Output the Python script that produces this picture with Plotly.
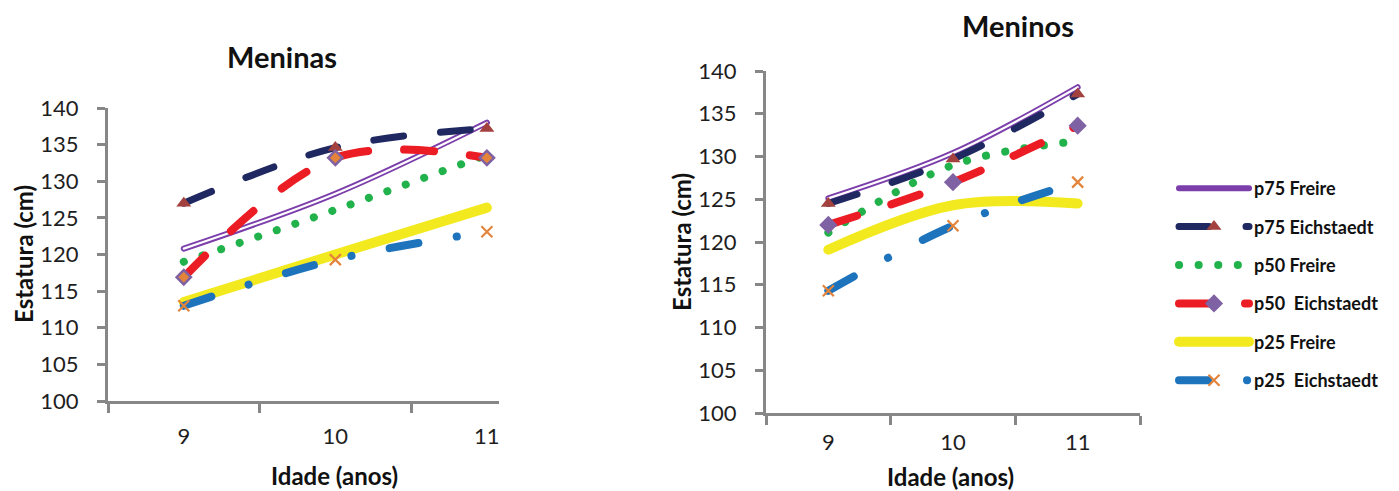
import plotly.graph_objects as go

# Age categories (years)
ages = [9, 10, 11]

# Girls (Meninas) – stature in cm
girls_p75_freire = [120.8, 128.3, 138.0]
girls_p75_eich = [127.0, 134.6, 137.2]
girls_p50_freire = [119.0, 126.1, 133.6]
girls_p50_eich = [116.9, 133.2, 133.2]
girls_p25_freire = [113.5, 120.0, 126.4]
girls_p25_eich = [113.0, 119.3, 123.1]

# Boys (Meninos) – stature in cm
boys_p75_freire = [125.1, 130.4, 138.1]
boys_p75_eich = [124.5, 129.7, 137.3]
boys_p50_freire = [121.1, 129.0, 131.8]
boys_p50_eich = [122.0, 127.0, 133.6]
boys_p25_freire = [119.1, 124.3, 124.5]
boys_p25_eich = [114.3, 121.9, 127.0]

series_names = ["p75 Freire", "p75 Eichstaedt", "p50 Freire",
                "p50  Eichstaedt", "p25 Freire", "p25  Eichstaedt"]
y_ticks = [100, 105, 110, 115, 120, 125, 130, 135, 140]

PURPLE = "#7B3EAA"
NAVY = "#1F2860"
TRI = "#A3413F"
GREEN = "#22B24C"
RED = "#EC1C24"
DIAMOND = "#7F62A3"
ORANGE = "#E4843A"
YELLOW = "#F2EA1E"
BLUE = "#1D74BD"
AXIS = "#878787"
FONT = "Lato"

fig = go.Figure()


def add_panel(xa, ya, data, girls):
    p75f, p75e, p50f, p50e, p25f, p25e = data
    legend = not girls
    # p75 Freire: double line (purple outline, white core)
    fig.add_trace(go.Scatter(x=ages, y=p75f, mode="lines", name=series_names[0],
                             line=dict(color=PURPLE, width=6, shape="spline"),
                             xaxis=xa, yaxis=ya, showlegend=legend, legendgroup="g0"))
    fig.add_trace(go.Scatter(x=ages, y=p75f, mode="lines", name=series_names[0],
                             line=dict(color="white", width=2.2, shape="spline"),
                             xaxis=xa, yaxis=ya, showlegend=False, legendgroup="g0",
                             hoverinfo="skip"))
    # p75 Eichstaedt
    fig.add_trace(go.Scatter(x=ages, y=p75e, mode="lines+markers", name=series_names[1],
                             line=dict(color=NAVY, width=7, dash="30px,37px", shape="spline"),
                             marker=dict(symbol="triangle-up", size=13, color=TRI),
                             xaxis=xa, yaxis=ya, showlegend=legend, legendgroup="g1"))
    # p50 Freire
    fig.add_trace(go.Scatter(x=ages, y=p50f, mode="lines", name=series_names[2],
                             line=dict(color=GREEN, width=8, dash="0.1px,19.5px", shape="spline"),
                             xaxis=xa, yaxis=ya, showlegend=legend, legendgroup="g2"))
    # p50 Eichstaedt
    if girls:
        dmark = dict(symbol="diamond", size=11, color=ORANGE, line=dict(color=DIAMOND, width=2.5))
    else:
        dmark = dict(symbol="diamond", size=14, color=DIAMOND)
    fig.add_trace(go.Scatter(x=ages, y=p50e, mode="lines+markers", name=series_names[3],
                             line=dict(color=RED, width=8, dash="30px,36px", shape="spline"),
                             marker=dmark,
                             xaxis=xa, yaxis=ya, showlegend=legend, legendgroup="g3"))
    # p25 Freire
    fig.add_trace(go.Scatter(x=ages, y=p25f, mode="lines", name=series_names[4],
                             line=dict(color=YELLOW, width=10, shape="spline"),
                             xaxis=xa, yaxis=ya, showlegend=legend, legendgroup="g4"))
    # p25 Eichstaedt
    fig.add_trace(go.Scatter(x=ages, y=p25e, mode="lines+markers", name=series_names[5],
                             line=dict(color=BLUE, width=8, dash="29px,39px,0.1px,39px", shape="spline"),
                             marker=dict(symbol="x-thin", size=11, color=ORANGE,
                                         line=dict(color=ORANGE, width=2.2)),
                             xaxis=xa, yaxis=ya, showlegend=legend, legendgroup="g5"))


add_panel("x", "y", [girls_p75_freire, girls_p75_eich, girls_p50_freire,
                     girls_p50_eich, girls_p25_freire, girls_p25_eich], True)
add_panel("x2", "y2", [boys_p75_freire, boys_p75_eich, boys_p50_freire,
                       boys_p50_eich, boys_p25_freire, boys_p25_eich], False)

W, H = 1399, 491
tickfont = dict(family=FONT, size=22, color="#1E1E1E")


def xaxis(domain, rng, anchor, minor_vals, standoff):
    return dict(domain=domain, range=rng, anchor=anchor, automargin=False,
                tickvals=ages, ticktext=[str(a) for a in ages], ticks="",
                tickfont=tickfont, ticklabelstandoff=standoff,
                showline=True, linecolor=AXIS, linewidth=3,
                showgrid=False, zeroline=False,
                minor=dict(tickvals=minor_vals, ticks="outside", ticklen=9,
                           tickwidth=3, tickcolor=AXIS, showgrid=False))


def yaxis(domain, anchor):
    return dict(domain=domain, range=[100, 140], anchor=anchor, automargin=False,
                tickvals=y_ticks, ticks="outside", ticklen=8, tickwidth=3,
                tickcolor=AXIS, tickfont=tickfont, ticklabelstandoff=14,
                showline=True, linecolor=AXIS, linewidth=3,
                showgrid=False, zeroline=False)


fig.update_layout(
    width=W, height=H, autosize=False,
    margin=dict(l=0, r=0, t=0, b=0),
    paper_bgcolor="white", plot_bgcolor="white",
    xaxis=xaxis([108 / W, 499 / W], [8.5, 11.08], "y", [8.5, 9.5, 10.5], 14),
    yaxis=yaxis([1 - 401 / H, 1 - 108 / H], "x"),
    xaxis2=xaxis([766 / W, 1140 / W], [8.5, 11.5], "y2", [8.5, 9.5, 10.5, 11.5], 8),
    yaxis2=yaxis([1 - 413 / H, 1 - 71 / H], "x2"),
    legend=dict(x=1174 / W, y=1 - 170 / H, xanchor="left", yanchor="top",
                font=dict(family=FONT, size=18, color="#111111", weight="bold"),
                tracegroupgap=12, itemwidth=70, bgcolor="rgba(0,0,0,0)"),
    showlegend=True,
)

title_font = dict(family=FONT, size=29, color="#111111", weight="bold")
axis_title_font = dict(family=FONT, size=24, color="#111111", weight="bold")
annots = [
    dict(text="Meninas", x=282 / W, y=1 - 57 / H, font=title_font),
    dict(text="Meninos", x=1018 / W, y=1 - 25 / H, font=title_font),
    dict(text="Estatura (cm)", x=23 / W, y=1 - 254 / H, font=axis_title_font, textangle=-90),
    dict(text="Estatura (cm)", x=681 / W, y=1 - 242 / H, font=axis_title_font, textangle=-90),
    dict(text="Idade (anos)", x=334 / W, y=1 - 475 / H, font=axis_title_font),
    dict(text="Idade (anos)", x=950 / W, y=1 - 476 / H, font=axis_title_font),
]
for a in annots:
    fig.add_annotation(xref="paper", yref="paper", showarrow=False,
                       xanchor="center", yanchor="middle", **a)

# Rounded line ends so dashes look like capsules and dots like circles
round_caps = (
    "var s=document.createElement('style');"
    "s.textContent='.js-line{stroke-linecap:round;stroke-linejoin:round;}';"
    "document.head.appendChild(s);"
)
fig.write_html("out.html", post_script=round_caps)
